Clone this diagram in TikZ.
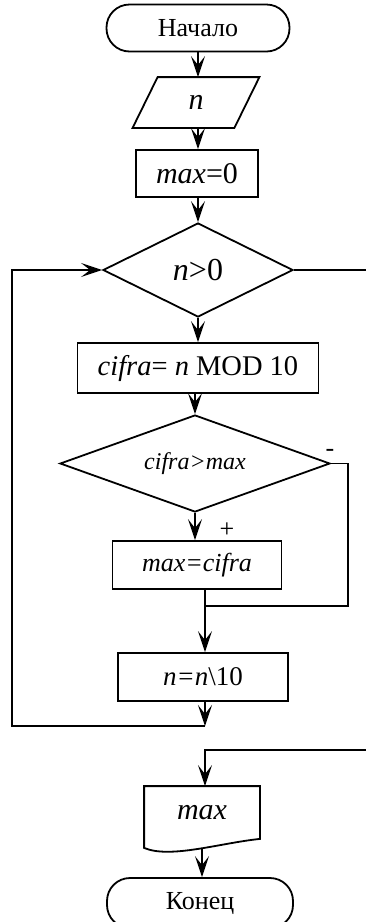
\documentclass[tikz,border=0pt]{standalone}
\usepackage{fontspec}
\setmainfont{Liberation Serif}
\usetikzlibrary{shapes.geometric,arrows.meta,calc}

\begin{document}
\begin{tikzpicture}[x=1pt,y=-1pt,
  line width=1.8pt,
  every node/.style={font=\fontsize{26}{30}\selectfont, inner sep=0pt},
  big/.style={font=\fontsize{30}{34}\selectfont},
  box/.style={draw, rectangle},
  term/.style={draw, rectangle, rounded corners=23pt},
  cond/.style={draw, diamond, aspect=2},
  arr/.style={-{Stealth[length=21pt,width=14pt,inset=9pt]}},
  mark label/.style={font=\fontsize{26}{28}\selectfont},
]
\useasboundingbox (0,0) rectangle (365,922);

% blocks
\node[term, minimum width=183pt, minimum height=47pt] (start) at (198,28) {Начало};
\node[big, minimum width=100pt, minimum height=49pt] (in) at (196,102.5) {\textit{n}};
\draw ([xshift=-12.5pt]in.south west) -- ([xshift=12.5pt]in.north west)
   -- ([xshift=12.5pt]in.north east) -- ([xshift=-12.5pt]in.south east) -- cycle;
\node[box, big, minimum width=122pt, minimum height=47pt] (m0) at (197,173.5) {\textit{max}=0};
\node[cond, font=\fontsize{32}{36}\selectfont, minimum width=190pt, minimum height=94pt] (d1) at (198,270) {\textit{n}>0};
\node[box, font=\fontsize{28.5}{32}\selectfont, minimum width=241pt, minimum height=50pt] (cf) at (198,368) {\textit{cifra}= \textit{n} MOD 10};
\node[cond, minimum width=270pt, minimum height=97pt, font=\fontsize{24}{28}\selectfont] (d2) at (195,463.5) {\textit{cifra>max}};
\node[box, minimum width=169pt, minimum height=48pt] (mc) at (197,565) {\textit{max=cifra}};
\node[box, font=\fontsize{27}{30}\selectfont, minimum width=170pt, minimum height=48pt] (nd) at (203,677) {\textit{n=n}\textbackslash 10};
\node[big, minimum width=114pt, minimum height=52pt] (out) at (202,813) {\textit{max}};
\draw (out.north west) -- (out.north east) -- ($(out.south east)+(0,-1)$)
   .. controls (220,843) and (170,859) .. ($(out.south west)+(0,8)$) -- cycle;
\node[term, minimum width=186pt, minimum height=50pt] (end) at (200,903) {Конец};

% junctions and free ends
\coordinate (j) at (205,606);
\coordinate (c1) at (205,726);
\coordinate (c2) at (12,726);
\coordinate (r) at (348,463.5);
\coordinate (e1) at (368,270);
\coordinate (e2) at (368,750);

% flow
\draw[arr] (start.south) -- (start.south |- in.north);
\draw[arr] (start.south |- in.south) -- (start.south |- m0.north);
\draw[arr] (start.south |- m0.south) -- (d1.north);
\draw[arr] (d1.south) -- (cf.north);
\draw[arr] (cf.south -| d2.north) -- (d2.north);
\draw[arr] (d2.south) -- (d2.south |- mc.north);
\draw (mc.south -| j) -- (j);
\draw (d2.east) -- (r) |- (j);
\draw[arr] (j) -- (j |- nd.north);
\draw[arr] (j |- nd.south) -- (c1);
\draw[arr] (c1) -- (c2) -- (c2 |- d1.west) -- (d1.west);
\draw (d1.east) -- (e1);
\draw[arr] (e2) -- (e2 -| j) -- (j |- out.north);
\draw[arr] ($(out.south)+(0,8)$) -- (out.south |- end.north);

% branch marks
\node[mark label] (minus) at (330,453) {-};
\node[mark label] (plus) at (227,530) {+};
\end{tikzpicture}
\end{document}
